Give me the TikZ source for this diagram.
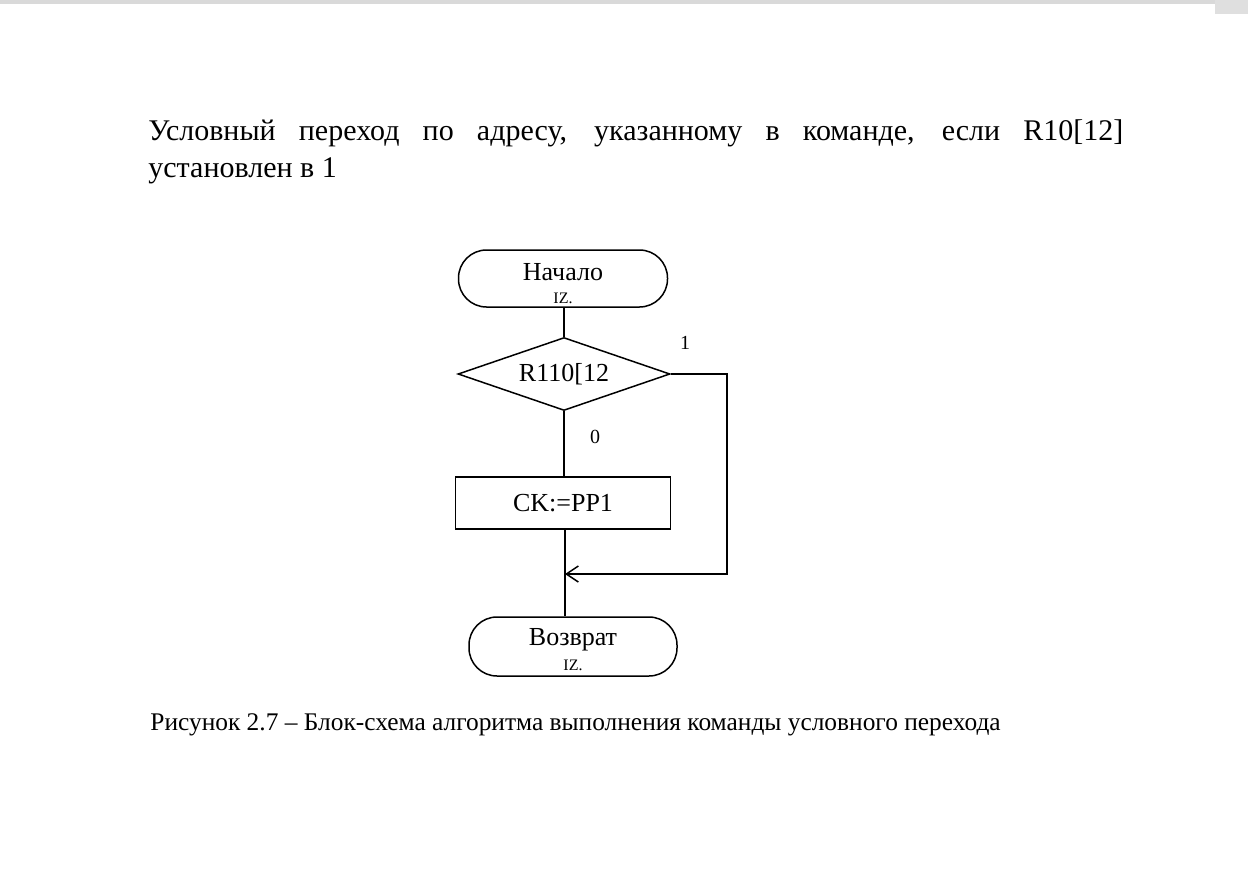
\documentclass[tikz,border=0pt]{standalone}
\usepackage{fontspec}
\setmainfont{Liberation Serif}
\usetikzlibrary{shapes.geometric,arrows.meta}
\begin{document}
\begin{tikzpicture}[x=0.5pt,y=-0.5pt,
  ln/.style={line width=0.75pt},
  term/.style={draw, ln, rounded corners=14pt, inner sep=0pt},
  ttext/.style={inner sep=0pt, font=\fontsize{13}{13}\selectfont},
  iz/.style={inner sep=0pt, font=\fontsize{8}{8}\selectfont},
  dec/.style={draw, ln, diamond, aspect=2.9, minimum width=106pt, minimum height=36.5pt,
    inner sep=0pt, font=\fontsize{13}{13}\selectfont},
  proc/.style={draw, ln, minimum width=107.5pt, minimum height=26pt, inner sep=0pt,
    font=\fontsize{13}{13}\selectfont},
  lbl/.style={font=\fontsize{10}{10}\selectfont, inner sep=0pt}
]
\useasboundingbox[fill=white] (0,0) rectangle (1248,868);
\fill[gray!30] (0,0) rectangle (1248,4);
\fill[gray!25] (1215,0) rectangle (1248,14);

\node[anchor=north west, inner sep=0pt, text width=487.5pt, align=justify,
  font=\fontsize{15}{18.5}\selectfont] (title) at (148,119)
  {Условный переход по адресу, указанному в команде, если R10[12]\linebreak установлен в~1};

\node[term, minimum width=104.5pt, minimum height=28.5pt] (start) at (563,278.5) {};
\node[ttext] (startt) at (563,272) {Начало};
\node[iz] (startiz) at (563,298) {IZ.};

\node[dec] (dia) at (564,374) {R110[12};
\node[proc] (act) at (563,503) {CK:=PP1};

\node[term, minimum width=104pt, minimum height=29.5pt] (ret) at (573,646.5) {};
\node[ttext] (rett) at (573,640) {Возврат};
\node[iz] (retiz) at (573,665) {IZ.};

\coordinate (c1) at (727,374);
\coordinate (c2) at (727,574);
\coordinate (j) at (565,574);

\draw[ln] (start.south -| dia.north) -- (dia.north);
\draw[ln] (dia.south) -- (dia.south |- act.north);
\draw[ln] (act.south -| j) -- (j |- ret.north);
\draw[ln, -{Straight Barb[length=6pt,width=8pt]}] (dia.east) -- (c1) -- (c2) -- (j);

\node[lbl] (l1) at (685,343) {1};
\node[lbl] (l0) at (595,437) {0};

\node[anchor=west, inner sep=0pt, font=\fontsize{12.7}{14}\selectfont] (cap) at (150,725)
  {Рисунок 2.7 -- Блок-схема алгоритма выполнения команды условного перехода};
\end{tikzpicture}
\end{document}
